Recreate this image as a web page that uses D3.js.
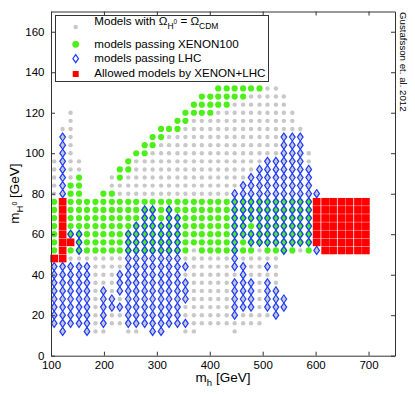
<!DOCTYPE html>
<html>
<head>
<meta charset="utf-8">
<script src="https://cdnjs.cloudflare.com/ajax/libs/d3/7.8.5/d3.min.js"></script>
<style>
  body { margin: 0; background: #fff; }
  svg { display: block; font-family: "Liberation Sans", Arial, Helvetica, sans-serif; }
</style>
</head>
<body>
<svg width="415" height="394"></svg>
<script>
// scan grid: m_H0 is sampled every 4 GeV
var scanStep = 4;

// each run = [m_h, lowest m_H0, highest m_H0] (GeV)
var allModels = [
  [106,16,96],[122,12,112],[137,16,120],[153,16,96],[168,12,76],[184,12,76],
  [199,12,80],[215,16,88],[230,16,92],[246,12,96],[261,12,100],[277,16,104],
  [292,12,108],[308,12,112],[323,16,112],[339,16,116],[354,12,120],[370,12,124],
  [385,16,128],[401,16,128],[416,16,132],[432,16,132],[447,12,132],[463,16,132],
  [478,16,132],[494,16,132],[509,20,132],[525,20,132],[540,24,28],[540,52,128],
  [556,52,120],[571,52,112],[587,52,100],[602,52,80],[618,52,76],[633,52,76],
  [649,52,76],[664,52,76],[680,52,76],[695,52,76]
];

var passXenon = [
  [106,52,76],[137,52,84],[153,52,88],[168,52,76],[184,52,76],[199,52,80],
  [215,52,80],[230,52,76],[230,88,92],[246,52,76],[246,92,96],[261,52,76],
  [261,100,100],[277,52,76],[277,100,104],[292,52,76],[292,104,108],[308,52,76],
  [308,108,112],[323,52,76],[323,112,112],[339,52,76],[339,112,116],[354,52,76],
  [354,116,120],[370,56,76],[370,120,124],[385,52,76],[385,120,128],[401,52,76],
  [401,120,128],[416,52,76],[416,124,132],[432,52,76],[432,124,132],[447,52,76],
  [447,128,132],[463,52,76],[463,128,132],[478,52,76],[478,132,132],[494,56,76],
  [494,132,132],[509,52,76],[525,52,76],[540,52,76],[556,52,76],[571,56,76],
  [587,52,76]
];

var passLHC = [
  [106,16,44],[122,12,44],[122,80,108],[137,16,44],[137,60,60],[153,16,44],
  [153,52,60],[168,12,44],[199,16,32],[215,24,28],[230,24,24],[230,32,40],
  [246,16,60],[261,16,64],[277,16,72],[292,12,72],[308,12,64],[323,16,72],
  [339,16,68],[354,16,16],[354,28,36],[354,44,44],[447,20,36],[447,44,80],
  [463,24,44],[463,60,84],[478,24,36],[478,56,60],[478,68,88],[494,56,92],
  [509,24,36],[509,44,44],[509,56,96],[525,20,32],[525,56,96],[540,24,28],
  [540,52,108],[556,56,108],[571,56,108],[587,56,92],[602,52,52],[602,80,80]
];

var allowedBoth = [
  [106,48,48],[122,48,76],[137,56,56],[602,56,76],[618,52,76],[633,52,76],
  [649,52,76],[664,52,76],[680,52,76],[695,52,76]
];

var xTicks = [100, 200, 300, 400, 500, 600, 700];
var yTicks = [0, 20, 40, 60, 80, 100, 120, 140, 160];

// turn runs into single scan points
function expand(runs) {
  var pts = [];
  runs.forEach(function(r) {
    for (var m = r[1]; m <= r[2]; m += scanStep) pts.push({mh: r[0], mH0: m});
  });
  return pts;
}

var svg = d3.select("svg"),
    margin = {top: 11.5, right: 20, bottom: 38.3, left: 51},
    width = +svg.attr("width") - margin.left - margin.right,
    height = +svg.attr("height") - margin.top - margin.bottom;

var x = d3.scaleLinear().domain([100, 750]).range([margin.left, margin.left + width]),
    y = d3.scaleLinear().domain([0, 170]).range([margin.top + height, margin.top]);

var gray = "#c8c8c8", green = "#4cef17", blue = "#1f3cff", red = "#ff0000";
var diamond = "M0,-4L2.8,0L0,4L-2.8,0Z";

// points
svg.append("g").selectAll("circle")
  .data(expand(allModels))
  .enter().append("circle")
    .attr("cx", function(d) { return x(d.mh); })
    .attr("cy", function(d) { return y(d.mH0); })
    .attr("r", 2.2)
    .attr("fill", gray);

svg.append("g").selectAll("circle")
  .data(expand(passXenon))
  .enter().append("circle")
    .attr("cx", function(d) { return x(d.mh); })
    .attr("cy", function(d) { return y(d.mH0); })
    .attr("r", 3.1)
    .attr("fill", green);

svg.append("g").selectAll("path")
  .data(expand(passLHC))
  .enter().append("path")
    .attr("d", diamond)
    .attr("transform", function(d) { return "translate(" + x(d.mh) + "," + y(d.mH0) + ")"; })
    .attr("fill", "none")
    .attr("stroke", blue)
    .attr("stroke-width", 1.25);

svg.append("g").selectAll("rect")
  .data(expand(allowedBoth))
  .enter().append("rect")
    .attr("x", function(d) { return x(d.mh) - 3.85; })
    .attr("y", function(d) { return y(d.mH0) - 3.85; })
    .attr("width", 7.7)
    .attr("height", 7.7)
    .attr("fill", red);

// axes, ticks inside on all four sides
function styleAxis(g) {
  g.selectAll(".domain").attr("stroke", "#333");
  g.selectAll(".tick line").attr("stroke", "#333");
  g.selectAll("text").attr("fill", "#000").style("font-size", "11.5px")
    .style("font-family", "'Liberation Sans', Arial, sans-serif");
}

svg.append("g")
  .attr("transform", "translate(0," + (margin.top + height) + ")")
  .call(d3.axisBottom(x).tickValues(xTicks).tickSizeInner(-4).tickSizeOuter(0).tickPadding(5.5))
  .call(styleAxis);

svg.append("g")
  .attr("transform", "translate(0," + margin.top + ")")
  .call(d3.axisTop(x).tickValues(xTicks).tickSizeInner(-4).tickSizeOuter(0).tickFormat(""))
  .call(styleAxis);

svg.append("g")
  .attr("transform", "translate(" + margin.left + ",0)")
  .call(d3.axisLeft(y).tickValues(yTicks).tickSizeInner(-4).tickSizeOuter(0).tickPadding(6.5))
  .call(styleAxis);

svg.append("g")
  .attr("transform", "translate(" + (margin.left + width) + ",0)")
  .call(d3.axisRight(y).tickValues(yTicks).tickSizeInner(-4).tickSizeOuter(0).tickFormat(""))
  .call(styleAxis);

// axis titles
var xt = svg.append("text")
  .attr("x", margin.left + width / 2)
  .attr("y", 382)
  .attr("text-anchor", "middle")
  .style("font-size", "13.5px");
xt.append("tspan").text("m");
xt.append("tspan").attr("dy", 3.5).style("font-size", "9.5px").text("h");
xt.append("tspan").attr("dy", -3.5).text(" [GeV]");

var yt = svg.append("text")
  .attr("transform", "translate(19," + (margin.top + height / 2 + 10) + ") rotate(-90)")
  .attr("text-anchor", "middle")
  .style("font-size", "13.5px");
yt.append("tspan").text("m");
yt.append("tspan").attr("dy", 3.5).style("font-size", "9.5px").text("H");
yt.append("tspan").attr("dy", -5.5).style("font-size", "7px").text("0");
yt.append("tspan").attr("dy", 2).text(" [GeV]");

svg.append("text")
  .attr("transform", "translate(399.5,12) rotate(90)")
  .style("font-size", "9.7px")
  .text("Gustafsson et. al. 2012");

// legend
var legend = svg.append("g");
legend.append("rect")
  .attr("x", 55.5).attr("y", 15.5)
  .attr("width", 213).attr("height", 66)
  .attr("fill", "#fff")
  .attr("stroke", "#333");

var mx = 75.7;
legend.append("circle").attr("cx", mx).attr("cy", 27).attr("r", 2.2).attr("fill", gray);
legend.append("circle").attr("cx", mx).attr("cy", 44.3).attr("r", 3.4).attr("fill", green);
legend.append("path").attr("d", diamond)
  .attr("transform", "translate(" + mx + ",58.7)")
  .attr("fill", "none").attr("stroke", blue).attr("stroke-width", 1.25);
legend.append("rect").attr("x", mx - 3).attr("y", 71).attr("width", 6).attr("height", 6).attr("fill", red);

var l1 = legend.append("text").attr("x", 94.3).attr("y", 25).style("font-size", "11.6px");
l1.append("tspan").text("Models with \u03A9");
l1.append("tspan").attr("dy", 4).style("font-size", "8.5px").text("H");
l1.append("tspan").attr("dy", -5).style("font-size", "6.5px").text("0");
l1.append("tspan").attr("dy", 1).text(" = \u03A9");
l1.append("tspan").attr("dy", 4).style("font-size", "8.5px").text("CDM");

legend.append("text").attr("x", 94.3).attr("y", 47.7).style("font-size", "11.6px")
  .text("models passing XENON100");
legend.append("text").attr("x", 94.3).attr("y", 62).style("font-size", "11.6px")
  .text("models passing LHC");
legend.append("text").attr("x", 94.3).attr("y", 77).style("font-size", "11.6px")
  .text("Allowed models by XENON+LHC");
</script>
</body>
</html>
